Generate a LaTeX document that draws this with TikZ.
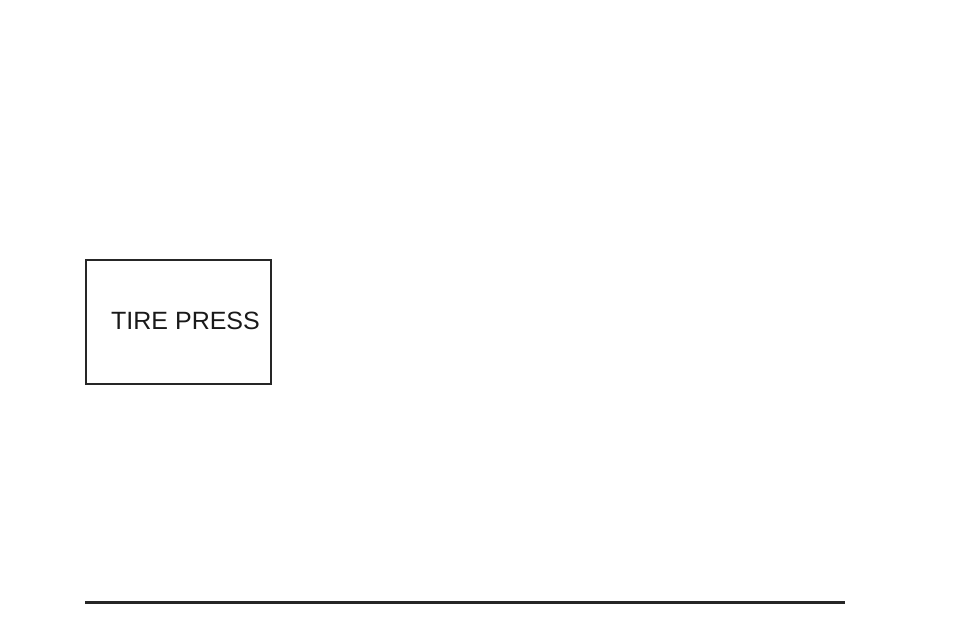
\documentclass[tikz,border=0pt]{standalone}
\usepackage{fontspec}
\setmainfont{Liberation Sans}
\usepackage{tikz}
\begin{document}
\begin{tikzpicture}[x=1pt,y=-1pt,
	panel/.style={draw=black!85,line width=1.8pt,inner sep=0pt,minimum width=185pt,minimum height=124pt},
	caption/.style={inner sep=0pt,text=black!90,font=\fontsize{25}{30}\selectfont}]
			% Khung
			\useasboundingbox (0,0) rectangle (954,636);
			\node [panel,anchor=north west] (box) at (85,259) {};
			\node [caption,anchor=base west] (txt) at (111,330) {TIRE PRESS};
			% Duong ke duoi
			\coordinate (ruleL) at (85,602);
			\coordinate (ruleR) at (845,602);
			\draw [black!85,line width=3pt] (ruleL) -- (ruleR);
		\end{tikzpicture}
\end{document}
